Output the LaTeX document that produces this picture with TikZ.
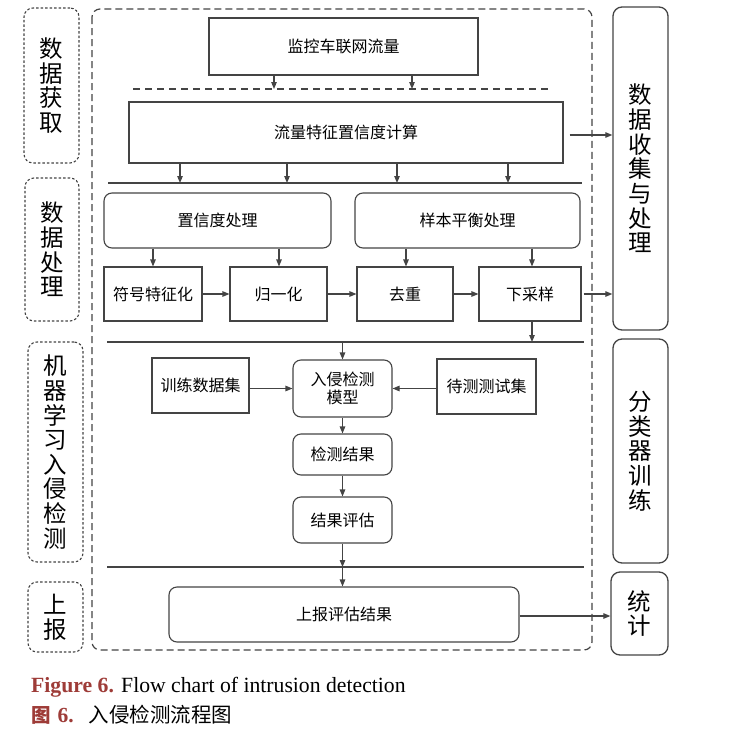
\documentclass[tikz,border=0pt]{standalone}
\usepackage{fontspec}
\setmainfont{Liberation Serif}
\newfontfamily\cjk{Noto Sans CJK SC}
\usetikzlibrary{arrows.meta}
\definecolor{bdr}{RGB}{68,68,68}
\definecolor{capred}{RGB}{158,60,56}
\tikzset{
  box/.style={draw=bdr, line width=1.1pt, fill=white, inner sep=0pt, text=black,
    font=\cjk\fontsize{16}{18}\selectfont, align=center},
  rbox/.style={box, rounded corners=8pt},
  lab/.style={draw=bdr, line width=1.1pt, dash pattern=on 2.5pt off 2pt, rounded corners=9pt,
    inner sep=0pt, text=black, font=\cjk\fontsize{23.5}{24.6}\selectfont, align=center},
  rlab/.style={draw=bdr, line width=1.3pt, rounded corners=9pt,
    inner sep=0pt, text=black, font=\cjk\fontsize{23.5}{24.7}\selectfont, align=center},
  arr/.style={draw=bdr, line width=1.1pt, -{Triangle[length=7pt,width=5.5pt]}},
  sepline/.style={draw=bdr, line width=1.7pt},
}
\begin{document}
\begin{tikzpicture}[x=1pt,y=-1pt]
\useasboundingbox (0,0) rectangle (729,739);

% outer dashed frame
\draw[draw=bdr, line width=1.2pt, dash pattern=on 7pt off 4pt, rounded corners=8pt] (92,9) rectangle (592,650);

% left phase labels
\node[lab, minimum width=55pt, minimum height=155pt] (l1) at (51.5,85.5) {数\\据\\获\\取};
\node[lab, minimum width=54pt, minimum height=143pt] (l2) at (52,249.5) {数\\据\\处\\理};
\node[lab, minimum width=55pt, minimum height=220pt] (l3) at (55.5,452) {机\\器\\学\\习\\入\\侵\\检\\测};
\node[lab, minimum width=55pt, minimum height=70pt] (l4) at (55.5,617) {上\\报};

% right labels
\node[rlab, minimum width=55pt, minimum height=323pt] (collect) at (640.5,168.5) {数\\据\\收\\集\\与\\处\\理};
\node[rlab, minimum width=55pt, minimum height=224pt] (cls) at (640.5,451) {分\\类\\器\\训\\练};
\node[rlab, minimum width=57pt, minimum height=83pt] (stat) at (639.5,613.5) {统\\计};

% main boxes
\node[box, minimum width=269pt, minimum height=57pt] (top) at (343.5,46.5) {监控车联网流量};
\node[box, minimum width=434pt, minimum height=61pt] (flow) at (346,132.5) {流量特征置信度计算};
\node[rbox, minimum width=227pt, minimum height=55pt] (conf) at (217.5,220.5) {置信度处理};
\node[rbox, minimum width=225pt, minimum height=55pt] (samp) at (467.5,220.5) {样本平衡处理};
\node[box, minimum width=98pt, minimum height=54pt] (sym) at (153,294) {符号特征化};
\node[box, minimum width=97pt, minimum height=54pt] (norm) at (278.5,294) {归一化};
\node[box, minimum width=96pt, minimum height=54pt] (dedup) at (405,294) {去重};
\node[box, minimum width=102pt, minimum height=54pt] (down) at (530,294) {下采样};
\node[rbox, minimum width=99pt, minimum height=57pt] (model) at (342.5,388.5) {入侵检测\\模型};
\node[box, minimum width=97pt, minimum height=55pt] (train) at (200.5,385.5) {训练数据集};
\node[box, minimum width=99pt, minimum height=55pt] (test) at (486.5,386.5) {待测测试集};
\node[rbox, minimum width=99pt, minimum height=41pt] (res) at (342.5,454.5) {检测结果};
\node[rbox, minimum width=99pt, minimum height=46pt] (eval) at (342.5,520) {结果评估};
\node[rbox, minimum width=350pt, minimum height=55pt] (report) at (344,614.5) {上报评估结果};

% separator lines
\coordinate (d1) at (133,89);
\coordinate (d2) at (550,89);
\draw[draw=bdr, line width=1.2pt, dash pattern=on 7pt off 5pt] (d1) -- (d2);
\coordinate (s1a) at (108,183);
\coordinate (s1b) at (582,183);
\draw[sepline] (s1a) -- (s1b);
\coordinate (s2a) at (107,342);
\coordinate (s2b) at (584,342);
\draw[sepline] (s2a) -- (s2b);
\coordinate (s3a) at (107,567);
\coordinate (s3b) at (584,567);
\draw[sepline] (s3a) -- (s3b);

% arrows: top -> dashed line
\draw[arr] ([xshift=-69.5pt]top.south) -- ([xshift=-69.5pt]top.south |- d1);
\draw[arr] ([xshift=68.5pt]top.south) -- ([xshift=68.5pt]top.south |- d1);
% flow -> line 1
\foreach \dx in {-166,-59,51,162}
  \draw[arr] ([xshift=\dx pt]flow.south) -- ([xshift=\dx pt]flow.south |- s1a);
% flow -> collect
\draw[arr] ([xshift=6pt,yshift=-2.5pt]flow.east) -- ([yshift=-2.5pt]flow.east -| collect.west);
% conf / samp -> boxes
\draw[arr] ([xshift=-64.5pt]conf.south) -- ([xshift=-64.5pt]conf.south |- sym.north);
\draw[arr] ([xshift=61.5pt]conf.south) -- ([xshift=61.5pt]conf.south |- norm.north);
\draw[arr] ([xshift=-61.5pt]samp.south) -- ([xshift=-61.5pt]samp.south |- dedup.north);
\draw[arr] ([xshift=64.5pt]samp.south) -- ([xshift=64.5pt]samp.south |- down.north);
% row arrows
\draw[arr] (sym.east) -- (norm.west);
\draw[arr] (norm.east) -- (dedup.west);
\draw[arr] (dedup.east) -- (down.west);
\draw[arr] ([xshift=2pt]down.east) -- (down.east -| collect.west);
% down -> line 2
\draw[arr] ([xshift=2pt]down.south) -- ([xshift=2pt]down.south |- s2a);
% line 2 -> model
\draw[arr] (model.north |- s2a) -- (model.north);
% train/test -> model
\draw[arr] (model.west -| train.east) -- (model.west);
\draw[arr] (model.east -| test.west) -- (model.east);
% chain
\draw[arr] (model.south) -- (res.north);
\draw[arr] (res.south) -- (eval.north);
\draw[arr] (eval.south) -- (eval.south |- s3a);
\draw[arr] (eval.south |- s3a) -- (eval.south |- report.north);
% report -> stat
\draw[arr] ([yshift=-1.5pt]report.east) -- ([yshift=-1.5pt]report.east -| stat.west);

% caption
\node[anchor=base west, inner sep=0pt, font=\fontsize{21.7}{24}\selectfont] (cap1) at (31,692)
  {\textcolor{capred}{\bfseries Figure 6.} Flow chart of intrusion detection};
\node[anchor=base west, inner sep=0pt, font=\fontsize{21.5}{24}\selectfont] (cap2) at (31,722)
  {\textcolor{capred}{\cjk\fontsize{19.5}{24}\selectfont\bfseries 图}\hspace{7pt}\textcolor{capred}{\bfseries 6.}\hspace{15pt}{\cjk\fontsize{20.5}{24}\selectfont 入侵检测流程图}};
\end{tikzpicture}
\end{document}
